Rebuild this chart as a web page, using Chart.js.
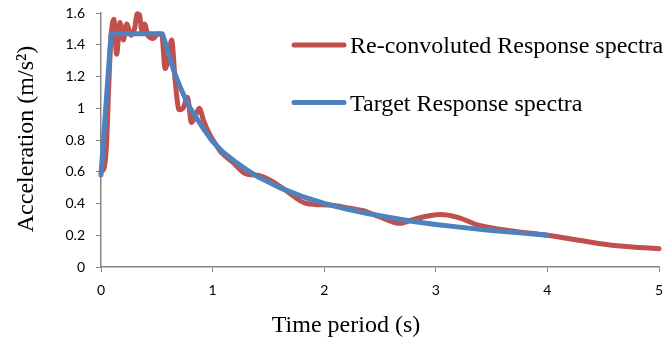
<!DOCTYPE html>
<html>
<head>
<meta charset="utf-8">
<script src="https://cdn.jsdelivr.net/npm/chart.js@4/dist/chart.umd.min.js"></script>
<style>
  html, body { margin: 0; padding: 0; background: #fff; }
  canvas { display: block; }
</style>
</head>
<body>
<canvas id="chart" width="665" height="341"></canvas>
<script>
// Re-convoluted response spectrum (period in s, acceleration in m/s²)
const periodRe = [0, 0.03, 0.05, 0.07, 0.09, 0.115, 0.14, 0.17, 0.2, 0.23, 0.27, 0.3, 0.325, 0.345, 0.365, 0.39, 0.42, 0.47, 0.51, 0.545,
  0.575, 0.605, 0.633, 0.665, 0.7, 0.735, 0.775, 0.81, 0.845, 0.88, 0.92, 0.97, 1.03, 1.08, 1.18, 1.29, 1.42, 1.52, 1.64, 1.84,
  2.05, 2.23, 2.35, 2.5, 2.68, 2.8, 3.04, 3.19, 3.4, 3.7, 4.0, 4.3, 4.6, 5.0];
const accelRe = [0.6, 0.63, 0.78, 1.15, 1.45, 1.56, 1.34, 1.54, 1.43, 1.53, 1.46, 1.5, 1.595, 1.59, 1.49, 1.53, 1.46, 1.44, 1.47, 1.46,
  1.25, 1.32, 1.43, 1.17, 0.99, 1.0, 1.07, 0.91, 0.95, 1.0, 0.92, 0.84, 0.77, 0.72, 0.66, 0.59, 0.575, 0.545, 0.49, 0.40,
  0.39, 0.37, 0.355, 0.315, 0.275, 0.30, 0.33, 0.314, 0.26, 0.226, 0.2, 0.167, 0.135, 0.115];

// Target design response spectrum
const periodTarget = [0, 0.09, 0.55, 0.6, 0.65, 0.7, 0.75, 0.8, 0.9, 1.0, 1.1, 1.2, 1.3, 1.4, 1.5, 1.6, 1.8, 2.0, 2.2, 2.4,
  2.6, 2.8, 3.0, 3.25, 3.5, 3.75, 4.0];
const accelTarget = [0.58, 1.47, 1.47, 1.36, 1.24, 1.15, 1.07, 1.0, 0.89, 0.79, 0.72, 0.665, 0.615, 0.57, 0.535, 0.50, 0.445, 0.40, 0.365, 0.335,
  0.31, 0.287, 0.268, 0.248, 0.23, 0.215, 0.2];

const seriesNames = ['Re-convoluted Response spectra', 'Target Response spectra'];
const xTickLabels = ['0', '1', '2', '3', '4', '5'];
const yTickLabels = ['0', '0.2', '0.4', '0.6', '0.8', '1', '1.2', '1.4', '1.6'];
const xTitle = 'Time period (s)';
const yTitle = 'Acceleration (m/s²)';

const RED = '#C0504D';
const BLUE = '#4F81BD';
const AXIS = '#868686';
const SERIF = '"Liberation Serif", "Times New Roman", serif';
const SANS = 'Lato, "Open Sans", sans-serif';

const toPoints = (xs, ys) => xs.map((x, i) => ({ x: x, y: ys[i] }));

// Legend on the right of the plot plus serif axis titles
const annotations = {
  id: 'annotations',
  afterDraw(chart) {
    const ctx = chart.ctx;
    const rows = [45, 102.5];
    ctx.save();
    chart.data.datasets.forEach((ds, i) => {
      const y = rows[i];
      ctx.strokeStyle = ds.borderColor;
      ctx.lineWidth = 5;
      ctx.lineCap = 'round';
      ctx.beginPath();
      ctx.moveTo(294, y);
      ctx.lineTo(344, y);
      ctx.stroke();
      ctx.fillStyle = '#000';
      ctx.font = '24px ' + SERIF;
      ctx.textAlign = 'left';
      ctx.textBaseline = 'alphabetic';
      ctx.fillText(ds.label, 350, y + 8.3);
    });

    ctx.fillStyle = '#000';
    ctx.font = '24px ' + SERIF;
    ctx.textAlign = 'center';
    ctx.textBaseline = 'alphabetic';
    ctx.fillText(xTitle, 346, 331.5);

    ctx.translate(33, 139);
    ctx.rotate(-Math.PI / 2);
    ctx.fillText(yTitle, 0, 0);
    ctx.restore();
  }
};

new Chart(document.getElementById('chart'), {
  type: 'line',
  data: {
    datasets: [
      {
        label: seriesNames[0],
        data: toPoints(periodRe, accelRe),
        borderColor: RED,
        borderWidth: 5,
        pointRadius: 0,
        fill: false,
        cubicInterpolationMode: 'monotone',
        borderCapStyle: 'round',
        borderJoinStyle: 'round',
        clip: 10,
        order: 2
      },
      {
        label: seriesNames[1],
        data: toPoints(periodTarget, accelTarget),
        borderColor: BLUE,
        borderWidth: 5,
        pointRadius: 0,
        fill: false,
        tension: 0,
        borderCapStyle: 'round',
        borderJoinStyle: 'round',
        clip: 10,
        order: 1
      }
    ]
  },
  options: {
    responsive: false,
    animation: false,
    devicePixelRatio: 1,
    layout: { padding: { left: 0, right: 6, top: 13, bottom: 0 } },
    plugins: {
      legend: { display: false },
      tooltip: { enabled: false }
    },
    scales: {
      x: {
        type: 'linear',
        min: 0,
        max: 5,
        afterFit(scale) {
          scale.height = 74;
          scale.paddingLeft = 0;
          scale.paddingRight = 0;
        },
        ticks: {
          stepSize: 1,
          color: '#000',
          padding: 10,
          font: { family: SANS, size: 14 },
          callback: (v, i) => xTickLabels[i]
        },
        grid: { drawOnChartArea: false, drawTicks: true, tickLength: 5, color: AXIS, lineWidth: 1 },
        border: { display: true, color: AXIS, width: 1.5 }
      },
      y: {
        min: 0,
        max: 1.6,
        afterFit(scale) {
          scale.width = 101;
          scale.paddingTop = 0;
          scale.paddingBottom = 0;
        },
        ticks: {
          stepSize: 0.2,
          color: '#000',
          padding: 11,
          font: { family: SANS, size: 14 },
          callback: (v, i) => yTickLabels[i]
        },
        grid: { drawOnChartArea: false, drawTicks: true, tickLength: 5, color: AXIS, lineWidth: 1 },
        border: { display: true, color: AXIS, width: 1.5 }
      }
    }
  },
  plugins: [annotations]
});
</script>
</body>
</html>
